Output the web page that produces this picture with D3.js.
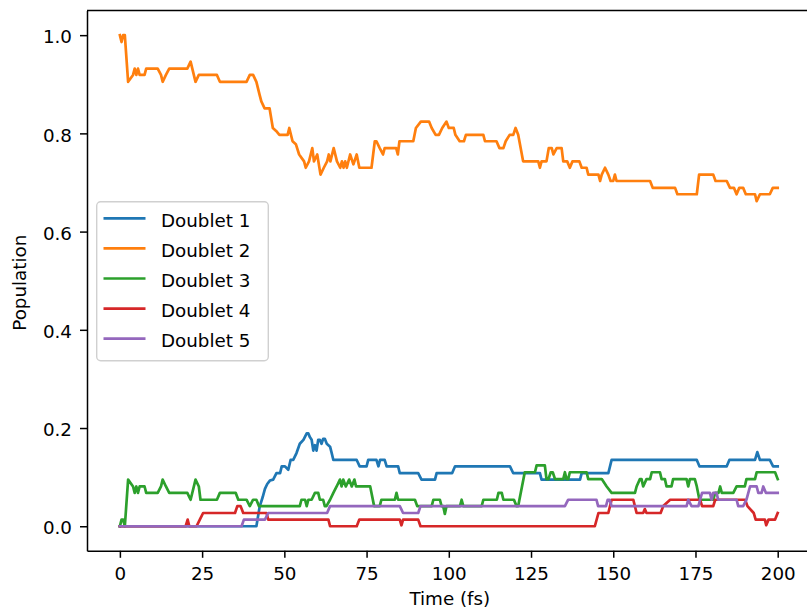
<!DOCTYPE html>
<html>
<head>
<meta charset="utf-8">
<script src="https://cdn.jsdelivr.net/npm/d3@7"></script>
<style>
    body { margin: 0; background: #fff; }
    svg text { font-family: "DejaVu Sans", sans-serif; }
</style>
</head>
<body>
<svg id="chart" width="807" height="613"></svg>
<script>
// Populations, [time (fs), population] vertices
const seriesNames = ["Doublet 1", "Doublet 2", "Doublet 3", "Doublet 4", "Doublet 5"];
const xTicks = [0, 25, 50, 75, 100, 125, 150, 175, 200];
const yTicks = [0.0, 0.2, 0.4, 0.6, 0.8, 1.0];

const doublet1 = [
    [0, 0], [41.5, 0], [42.5, 0.040], [43.4, 0.059], [44.1, 0.076], [44.8, 0.086], [45.6, 0.093],
    [46.6, 0.095], [47.6, 0.108], [48.7, 0.108], [49.2, 0.122], [50.2, 0.122], [51.2, 0.115],
    [51.9, 0.135], [52.7, 0.135], [53.7, 0.149], [54.7, 0.168], [55.8, 0.176], [56.8, 0.189],
    [57.3, 0.189], [57.8, 0.181], [58.3, 0.176], [58.8, 0.154], [59.3, 0.165], [59.8, 0.154],
    [60.3, 0.176], [60.8, 0.176], [61.3, 0.168], [61.8, 0.178], [62.3, 0.178], [62.9, 0.168],
    [63.9, 0.162], [64.4, 0.149], [64.9, 0.135], [72, 0.135], [72.9, 0.122], [75, 0.122],
    [75.5, 0.135], [78, 0.135], [78.6, 0.122], [79.1, 0.135], [80.5, 0.135], [81.1, 0.122],
    [84.6, 0.122], [85.1, 0.108], [90.7, 0.108], [91.7, 0.095], [95.8, 0.095], [96.3, 0.108],
    [101, 0.108], [101.9, 0.122], [118.6, 0.122], [119.6, 0.108], [127.7, 0.108], [128.2, 0.095],
    [139.9, 0.095], [140.4, 0.108], [148.5, 0.108], [149.5, 0.135], [175.4, 0.135], [176.2, 0.122],
    [184.5, 0.122], [185.3, 0.135], [193.1, 0.135], [193.8, 0.151], [194.6, 0.135], [197.6, 0.135],
    [198.6, 0.122], [200, 0.122]
];

const doublet2 = [
    [0, 1.0], [0.5, 0.986], [1, 1.0], [1.5, 1.0], [2.5, 0.905], [4, 0.919], [4.5, 0.932], [5, 0.919],
    [5.5, 0.932], [6, 0.919], [7.5, 0.919], [8, 0.932], [11.5, 0.932], [12.5, 0.919], [13, 0.905],
    [14, 0.919], [15, 0.932], [20, 0.932], [20.5, 0.932], [21.5, 0.946], [23, 0.905], [24, 0.919],
    [24.5, 0.919], [29.5, 0.919], [30.4, 0.905], [38.5, 0.905], [39.5, 0.919], [40.5, 0.919],
    [41.5, 0.905], [42.5, 0.878], [43, 0.865], [44, 0.851], [45.5, 0.851], [46.5, 0.811],
    [47.5, 0.805], [48.5, 0.797], [51, 0.797], [51.5, 0.811], [52.5, 0.784], [53.5, 0.778],
    [54.5, 0.757], [56, 0.743], [56.5, 0.730], [57.5, 0.743], [58.5, 0.770], [59, 0.743],
    [60, 0.757], [61, 0.716], [62, 0.730], [63, 0.743], [63.5, 0.757], [64, 0.743], [65, 0.770],
    [66, 0.743], [67, 0.730], [67.5, 0.743], [68, 0.730], [68.5, 0.743], [69, 0.730], [70, 0.757],
    [71, 0.737], [72, 0.757], [72.8, 0.730], [76.5, 0.730], [77.5, 0.784], [78, 0.784],
    [79, 0.770], [80, 0.757], [80.5, 0.770], [84, 0.770], [84.5, 0.757], [85, 0.784], [89.2, 0.784],
    [90, 0.811], [91.5, 0.824], [94, 0.824], [94.8, 0.811], [96, 0.797], [97, 0.797], [98, 0.811],
    [99.3, 0.824], [100, 0.811], [101.5, 0.811], [102, 0.797], [103.3, 0.784], [104.6, 0.784],
    [105.2, 0.797], [110.5, 0.797], [111, 0.784], [114.5, 0.784], [115.4, 0.770], [116.6, 0.770],
    [117.3, 0.784], [118.5, 0.797], [119.6, 0.797], [120.3, 0.811], [121.1, 0.797], [122.6, 0.743],
    [127.2, 0.743], [127.7, 0.730], [128.2, 0.743], [129.7, 0.743], [130.4, 0.770], [131.3, 0.770],
    [131.8, 0.757], [132.8, 0.770], [134.3, 0.770], [134.8, 0.743], [136, 0.743], [136.8, 0.730],
    [137.6, 0.743], [139.7, 0.743], [140.4, 0.730], [141.9, 0.730], [142.4, 0.716], [145.5, 0.716],
    [146, 0.703], [146.5, 0.716], [147.5, 0.730], [148.5, 0.716], [149.2, 0.703], [150, 0.703],
    [150.5, 0.716], [151, 0.703], [161.2, 0.703], [162, 0.689], [168.8, 0.689], [169.5, 0.676],
    [175.4, 0.676], [176.1, 0.716], [180.4, 0.716], [181.1, 0.703], [184.5, 0.703], [185.5, 0.689],
    [186.7, 0.689], [187.5, 0.676], [188.3, 0.689], [189.5, 0.689], [190.3, 0.676], [193.1, 0.676],
    [193.6, 0.662], [194.6, 0.676], [197.6, 0.676], [198.5, 0.689], [200, 0.689]
];

const doublet3 = [
    [0, 0], [0.5, 0.0135], [1, 0.0135], [1.5, 0], [2.5, 0.095], [4, 0.081], [4.5, 0.068], [5, 0.081],
    [5.5, 0.068], [6, 0.081], [7.5, 0.081], [8, 0.068], [11.5, 0.068], [12.5, 0.081], [13, 0.095],
    [14, 0.081], [15, 0.068], [20.5, 0.068], [21.5, 0.054], [23, 0.095], [24, 0.081], [24.5, 0.054],
    [29.5, 0.054], [30.4, 0.068], [35.2, 0.068], [36, 0.054], [38.5, 0.054], [39.5, 0.041],
    [40.5, 0.054], [41.5, 0.054], [42.3, 0.041], [54.7, 0.041], [55.2, 0.054], [56.3, 0.054],
    [56.8, 0.041], [57.3, 0.054], [58.3, 0.054], [59.3, 0.068], [60.3, 0.068], [60.8, 0.054],
    [61.8, 0.054], [62.3, 0.041], [62.8, 0.041], [63.9, 0.054], [64.9, 0.068], [65.9, 0.081],
    [66.9, 0.095], [67.4, 0.081], [67.9, 0.095], [68.7, 0.081], [69.7, 0.095], [70.5, 0.081],
    [71.3, 0.095], [71.8, 0.081], [76.1, 0.081], [77.3, 0.041], [79, 0.041], [79.5, 0.054],
    [83.6, 0.054], [84.1, 0.068], [84.6, 0.054], [89.7, 0.054], [90.4, 0.041], [94.8, 0.041],
    [95.3, 0.054], [97.3, 0.054], [97.8, 0.041], [98.3, 0.041], [98.8, 0.025], [99.3, 0.041],
    [103.4, 0.041], [103.9, 0.054], [104.4, 0.041], [110, 0.041], [110.5, 0.054], [114.6, 0.054],
    [115.1, 0.068], [116.1, 0.068], [116.6, 0.054], [119.8, 0.054], [120.6, 0.041], [121.1, 0.041],
    [123.1, 0.110], [126.2, 0.110], [126.7, 0.124], [129.2, 0.124], [129.7, 0.096], [130.3, 0.096],
    [131, 0.110], [131.6, 0.110], [132.3, 0.096], [134.8, 0.096], [135.3, 0.110], [135.8, 0.096],
    [136.3, 0.096], [136.8, 0.110], [141.9, 0.110], [142.4, 0.096], [146.5, 0.096], [148, 0.081],
    [149.5, 0.068], [156.6, 0.068], [157.1, 0.081], [158.1, 0.096], [158.6, 0.096], [159.1, 0.081],
    [160.1, 0.096], [161.2, 0.096], [161.7, 0.110], [164.2, 0.110], [164.7, 0.096], [165.7, 0.096],
    [166.2, 0.081], [167.7, 0.081], [168.2, 0.096], [172.3, 0.096], [172.8, 0.081], [173.3, 0.096],
    [174.8, 0.096], [175.4, 0.081], [176.2, 0.054], [180.4, 0.054], [181, 0.068], [182, 0.068],
    [182.5, 0.081], [183, 0.068], [186.5, 0.068], [187.5, 0.081], [190, 0.081], [190.5, 0.096],
    [193.1, 0.096], [193.6, 0.110], [199.2, 0.110], [200, 0.096]
];

const doublet4 = [
    [0, 0], [20, 0], [20.6, 0.0135], [21.1, 0], [23.3, 0], [24.3, 0.0135], [25.3, 0.027], [35, 0.027],
    [35.7, 0.041], [36.7, 0.041], [37.5, 0.027], [44.6, 0.027], [45.1, 0.0135], [63.4, 0.0135],
    [63.9, 0], [72, 0], [72.8, 0.0135], [85.1, 0.0135], [85.6, 0.002], [86.1, 0.0135], [90.7, 0.0135],
    [91.4, 0], [144.4, 0], [145.5, 0.027], [148.5, 0.027], [149.5, 0.054], [156.1, 0.054],
    [157.1, 0.027], [159.1, 0.027], [159.6, 0.035], [160.1, 0.027], [164.4, 0.027], [165.2, 0.041],
    [167.3, 0.054], [176.4, 0.054], [177, 0.041], [180.4, 0.041], [181, 0.054], [190.1, 0.054],
    [190.8, 0.041], [192.7, 0.027], [193.3, 0.0135], [196.1, 0.0135], [196.5, 0.002], [197.2, 0.0135],
    [199.2, 0.0135], [200, 0.027]
];

const doublet5 = [
    [0, 0], [37, 0], [37.7, 0.0135], [44.1, 0.0135], [45.1, 0.027], [63, 0.027], [63.9, 0.041],
    [85.1, 0.041], [86.1, 0.027], [90.7, 0.027], [91.4, 0.041], [135.3, 0.041], [136.3, 0.054],
    [144.9, 0.054], [145.4, 0.041], [147.8, 0.041], [148.3, 0.054], [148.9, 0.054], [149.5, 0.041],
    [172.3, 0.041], [172.8, 0.054], [173.8, 0.041], [175.9, 0.041], [176.4, 0.054], [177, 0.068],
    [179.4, 0.068], [179.9, 0.054], [180.4, 0.068], [181.4, 0.068], [181.9, 0.054], [187.5, 0.054],
    [188, 0.041], [189.5, 0.041], [190.5, 0.054], [191.6, 0.081], [193.6, 0.081], [194.1, 0.068],
    [195.1, 0.068], [195.6, 0.081], [196.4, 0.068], [200, 0.068]
];

const seriesData = [doublet1, doublet2, doublet3, doublet4, doublet5];

/*
    Plot, matplotlib-like look
*/
const svg = d3.select("#chart");
const plotLeft = 87, plotRight = 810.6, plotTop = 10.6, plotBottom = 550.8;
const fontSize = 18.3;

const color = d3.scaleOrdinal()
    .domain(seriesNames)
    .range(["#1f77b4", "#ff7f0e", "#2ca02c", "#d62728", "#9467bd"]);

const x = d3.scaleLinear().domain([-10, 210]).range([plotLeft, plotRight]);
const y = d3.scaleLinear().domain([-0.05, 1.05]).range([plotBottom, plotTop]);

svg.append("rect")
    .attr("width", 807).attr("height", 613)
    .attr("fill", "#fff");

const line = d3.line()
    .x(d => x(d[0]))
    .y(d => y(d[1]));

svg.append("g")
    .selectAll("path")
    .data(seriesData)
    .enter().append("path")
    .attr("d", line)
    .attr("fill", "none")
    .attr("stroke", (d, i) => color(seriesNames[i]))
    .attr("stroke-width", 2.7)
    .attr("stroke-linejoin", "round")
    .attr("stroke-linecap", "square");

// axes
const xAxis = svg.append("g")
    .attr("transform", `translate(0, ${plotBottom})`)
    .call(d3.axisBottom(x).tickValues(xTicks).tickSize(7).tickSizeOuter(0).tickPadding(9));

const yAxis = svg.append("g")
    .attr("transform", `translate(${plotLeft}, 0)`)
    .call(d3.axisLeft(y).tickValues(yTicks).tickFormat(d3.format(".1f")).tickSize(7).tickSizeOuter(0).tickPadding(8));

[xAxis, yAxis].forEach(a => {
    a.selectAll("path.domain").attr("stroke", "#000").attr("stroke-width", 1.5);
    a.selectAll(".tick line").attr("stroke", "#000").attr("stroke-width", 1.5);
    a.selectAll(".tick text")
        .attr("fill", "#000")
        .style("font-size", fontSize + "px")
        .style("font-family", "DejaVu Sans, sans-serif");
});
yAxis.selectAll(".tick text").attr("dy", "0.42em");

// top and right spines
svg.append("line")
    .attr("x1", plotLeft).attr("x2", plotRight)
    .attr("y1", plotTop).attr("y2", plotTop)
    .attr("stroke", "#000").attr("stroke-width", 1.5);
svg.append("line")
    .attr("x1", plotRight).attr("x2", plotRight)
    .attr("y1", plotTop).attr("y2", plotBottom)
    .attr("stroke", "#000").attr("stroke-width", 1.5);

// axis titles
svg.append("text")
    .attr("x", (plotLeft + plotRight) / 2 + 1)
    .attr("y", 605)
    .attr("text-anchor", "middle")
    .style("font-size", fontSize + "px")
    .text("Time (fs)");

svg.append("text")
    .attr("transform", `translate(26, ${(plotTop + plotBottom) / 2 + 2}) rotate(-90)`)
    .attr("text-anchor", "middle")
    .style("font-size", fontSize + "px")
    .text("Population");

// legend
const legend = svg.append("g");
legend.append("rect")
    .attr("x", 96.7).attr("y", 201.7)
    .attr("width", 171.6).attr("height", 159)
    .attr("rx", 4)
    .attr("fill", "#fff").attr("fill-opacity", 0.8)
    .attr("stroke", "#d0d0d0").attr("stroke-width", 1.4);

const entry = legend.selectAll("g.entry")
    .data(seriesNames)
    .enter().append("g")
    .attr("class", "entry")
    .attr("transform", (d, i) => `translate(0, ${218.3 + i * 30.1})`);

entry.append("line")
    .attr("x1", 103.5).attr("x2", 145.5)
    .attr("stroke", d => color(d))
    .attr("stroke-width", 2.7);

entry.append("text")
    .attr("x", 161)
    .attr("dy", "0.45em")
    .style("font-size", fontSize + "px")
    .text(d => d);
</script>
</body>
</html>
